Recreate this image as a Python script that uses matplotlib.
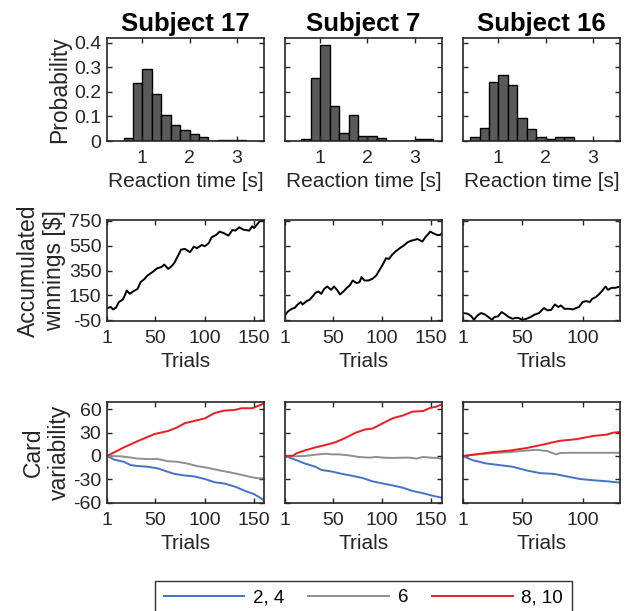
import numpy as np
import matplotlib.pyplot as plt
from matplotlib.ticker import FormatStrFormatter

plt.rcParams['font.family'] = ['Liberation Sans', 'DejaVu Sans']
plt.rcParams['axes.unicode_minus'] = False

subjects = ['Subject 17', 'Subject 7', 'Subject 16']

# histogramas de tempo de reacao (largura 0.2 s)
rt_start = [0.6, 0.6, 0.4]
rt_prob = [
    [0.011, 0.237, 0.292, 0.193, 0.107, 0.066, 0.045, 0.027, 0.015, 0.0, 0.006, 0.006, 0.006],
    [0.010, 0.258, 0.392, 0.144, 0.034, 0.107, 0.021, 0.021, 0.013, 0.0, 0.0, 0.0, 0.007, 0.007],
    [0.018, 0.055, 0.241, 0.271, 0.227, 0.095, 0.048, 0.018, 0.010, 0.018, 0.018],
]

# ganhos acumulados
win_trials_17 = [1, 2, 5, 7, 10, 13, 17, 19, 21, 24, 28, 32, 35, 39, 42, 47, 52, 56, 59, 63, 66, 69, 73, 76, 80,
                 85, 89, 92, 97, 100, 104, 107, 112, 115, 119, 124, 128, 131, 135, 139, 145, 148, 150, 154, 156, 160]
win_17 = [50, 51, 57, 38, 51, 97, 118, 150, 190, 163, 185, 203, 257, 283, 310, 337, 369, 377, 398, 363, 382, 409,
          470, 518, 523, 497, 542, 529, 555, 545, 569, 617, 638, 662, 651, 630, 675, 670, 697, 678, 670, 705, 691,
          729, 750, 750]
win_trials_7 = [1, 4, 8, 11, 14, 17, 19, 23, 26, 30, 32, 35, 38, 41, 44, 48, 51, 54, 57, 61, 64, 67, 70, 74, 77,
                79, 82, 86, 90, 94, 98, 101, 104, 107, 110, 114, 118, 122, 126, 130, 133, 136, 141, 144, 147, 149,
                152, 156, 159, 161]
win_7 = [-10, 22, 43, 51, 78, 97, 78, 105, 115, 150, 171, 182, 163, 203, 222, 195, 222, 195, 158, 185, 211, 230,
         270, 249, 257, 297, 270, 270, 283, 310, 363, 403, 449, 443, 475, 505, 529, 550, 577, 590, 595, 603, 582,
         617, 643, 662, 649, 635, 635, 649]
win_trials_16 = [1, 5, 8, 10, 13, 16, 19, 22, 25, 27, 30, 33, 36, 38, 42, 45, 47, 50, 53, 57, 60, 64, 66, 68, 71,
                 74, 77, 80, 82, 85, 89, 92, 95, 97, 100, 103, 106, 108, 111, 114, 116, 119, 121, 124, 127, 131]
win_16 = [9, 3, -18, -45, -10, 9, -2, -23, -45, -23, -18, 17, -2, -18, -37, -29, -31, -45, -39, -23, -5, 9, 30,
          49, 30, 35, 78, 57, 70, 43, 43, 38, 51, 57, 97, 105, 97, 123, 137, 163, 185, 222, 195, 211, 211, 222]

# variabilidade das cartas: azul = 2,4 ; cinza = 6 ; vermelho = 8,10
red_t_17 = [1, 18, 32, 49, 63, 71, 80, 90, 100, 110, 120, 131, 137, 148, 154, 160]
red_17 = [0, 11, 19, 28, 32, 36, 42, 45, 48, 55, 58, 59, 61, 61, 64, 67]
gray_t_17 = [1, 15, 25, 32, 45, 52, 62, 72, 82, 92, 102, 116, 126, 137, 147, 154, 160]
gray_17 = [0, -0.4, -2, -3.3, -4, -3.7, -6.6, -7.4, -9.5, -12.8, -14.9, -18.6, -21, -24, -27, -28.5, -28.5]
blue_t_17 = [1, 8, 18, 25, 32, 42, 52, 62, 69, 79, 89, 100, 110, 120, 131, 141, 150, 155, 160]
blue_17 = [0, -4.5, -7.4, -11.6, -12.8, -13.7, -15.7, -19.9, -22.8, -24.8, -26, -29.4, -33.5, -35.2, -39.3,
           -44.7, -48.8, -52.5, -57]

red_t_7 = [1, 9, 13, 21, 32, 42, 52, 62, 73, 83, 90, 101, 111, 121, 131, 142, 148, 155, 161]
red_7 = [0, 0.4, 3.7, 7, 11, 14, 17.4, 22.8, 29.8, 34, 35, 42, 48.4, 51.7, 56.7, 57.5, 61, 63, 66]
gray_t_7 = [1, 11, 21, 32, 42, 49, 55, 66, 76, 87, 94, 101, 111, 121, 128, 135, 142, 149, 156, 161]
gray_7 = [0, -0.4, 0, 1.7, 2.9, 2.1, 2.1, 0.8, -1.2, -2.1, -1.2, -2.1, -2.5, -2.1, -2.1, -3.3, -1.2, -2.1,
          -2.5, -3.7]
blue_t_7 = [1, 11, 21, 32, 38, 49, 59, 69, 80, 90, 101, 111, 121, 131, 142, 152, 161]
blue_7 = [0, -4.5, -9.5, -13.7, -17.8, -19.9, -22.8, -25.2, -28.1, -32.3, -35.2, -37.7, -40.5, -44.7, -47.6,
          -50.9, -53.4]

red_t_16 = [1, 12, 26, 40, 54, 67, 81, 95, 109, 120, 125, 131]
red_16 = [0, 2.1, 5, 7, 10.3, 14.5, 19.4, 21.5, 25.7, 27.3, 29.8, 30.6]
gray_t_16 = [1, 12, 26, 40, 54, 62, 71, 78, 81, 90, 103, 117, 131]
gray_16 = [0, 2.1, 3.7, 5, 7, 7.9, 6.2, 2.1, 3.7, 4.1, 4.1, 4.1, 4.1]
blue_t_16 = [1, 9, 20, 31, 42, 54, 65, 76, 87, 98, 109, 120, 131]
blue_16 = [0, -5.4, -9.5, -11.6, -13.7, -18.6, -21.9, -22.8, -26.1, -29.4, -31, -32.3, -34]

n_trials = [160, 161, 131]
trial_ticks = [[1, 50, 100, 150], [1, 50, 100, 150], [1, 50, 100]]

win_t = [win_trials_17, win_trials_7, win_trials_16]
win = [win_17, win_7, win_16]
cards = [
    [(blue_t_17, blue_17), (gray_t_17, gray_17), (red_t_17, red_17)],
    [(blue_t_7, blue_7), (gray_t_7, gray_7), (red_t_7, red_7)],
    [(blue_t_16, blue_16), (gray_t_16, gray_16), (red_t_16, red_16)],
]
card_labels = ['2, 4', '6', '8, 10']
card_cores = ['#4472c4', '#8f8f8f', '#ee1c25']

cinza_escuro = '#262626'

fig = plt.figure(figsize=(6.28, 6.11), dpi=100)

lefts = [0.1704, 0.4538, 0.7373]
w = 0.25


def estilo(ax):
    for s in ax.spines.values():
        s.set_color(cinza_escuro)
        s.set_linewidth(1.2)
    ax.tick_params(direction='in', top=True, right=True, length=3.5, width=1,
                   colors=cinza_escuro, labelsize=14)
    ax.tick_params(axis='x', pad=6.5)
    ax.tick_params(axis='y', pad=4)


linhas = []
for i in range(3):
    # linha de cima: histograma
    ax1 = fig.add_axes([lefts[i], 0.7692, w, 0.1686])
    bordas = rt_start[i] + 0.2 * np.arange(len(rt_prob[i]))
    ax1.bar(bordas, rt_prob[i], width=0.2, align='edge', color='#5a5a5a', edgecolor='black', linewidth=1)
    ax1.set_xlim(0.25, 3.58)
    ax1.set_ylim(0, 0.42)
    ax1.set_xticks([1, 2, 3])
    ax1.set_yticks([0, 0.1, 0.2, 0.3, 0.4])
    ax1.yaxis.set_major_formatter(FormatStrFormatter('%g'))
    estilo(ax1)
    ax1.set_xlabel('Reaction time [s]', fontsize=15, color=cinza_escuro, labelpad=3.5)
    ax1.set_title(subjects[i], fontsize=18.5, fontweight='bold', pad=5)

    # meio: ganhos acumulados
    ax2 = fig.add_axes([lefts[i], 0.4746, w, 0.1653])
    ax2.plot(win_t[i], win[i], color='black', linewidth=1.4)
    ax2.set_xlim(1, n_trials[i])
    ax2.set_ylim(-55, 755)
    ax2.set_xticks(trial_ticks[i])
    ax2.set_yticks([-50, 150, 350, 550, 750])
    estilo(ax2)
    ax2.set_xlabel('Trials', fontsize=15, color=cinza_escuro, labelpad=3.5)

    # baixo: variabilidade das cartas
    ax3 = fig.add_axes([lefts[i], 0.1768, w, 0.1653])
    for (t, v), lab, cor in zip(cards[i], card_labels, card_cores):
        l, = ax3.plot(t, v, color=cor, linewidth=1.4, label=lab)
        if i == 0:
            linhas.append(l)
    ax3.set_xlim(1, n_trials[i])
    ax3.set_ylim(-60, 69)
    ax3.set_xticks(trial_ticks[i])
    ax3.set_yticks([-60, -30, 0, 30, 60])
    estilo(ax3)
    ax3.set_xlabel('Trials', fontsize=15, color=cinza_escuro, labelpad=3.5)

    if i == 0:
        ax1.set_ylabel('Probability', fontsize=16.5, color=cinza_escuro, labelpad=2)
        ax2.set_ylabel('Accumulated\nwinnings [$]', fontsize=16.5, color=cinza_escuro, labelpad=2,
                       linespacing=1.15)
        ax3.set_ylabel('Card\nvariability', fontsize=16.5, color=cinza_escuro, labelpad=2, linespacing=1.15)
    else:
        ax1.set_yticklabels([])
        ax2.set_yticklabels([])
        ax3.set_yticklabels([])

leg = fig.legend(linhas, card_labels, loc='upper center', bbox_to_anchor=(0.5788, 0.0496), ncol=3,
                 fontsize=13.5, handlelength=4.3, handletextpad=0.45, columnspacing=1.3,
                 frameon=True, fancybox=False, edgecolor='black', borderpad=0.45, borderaxespad=0)
leg.get_frame().set_linewidth(1.0)

fig.savefig('out.png', dpi=100)
